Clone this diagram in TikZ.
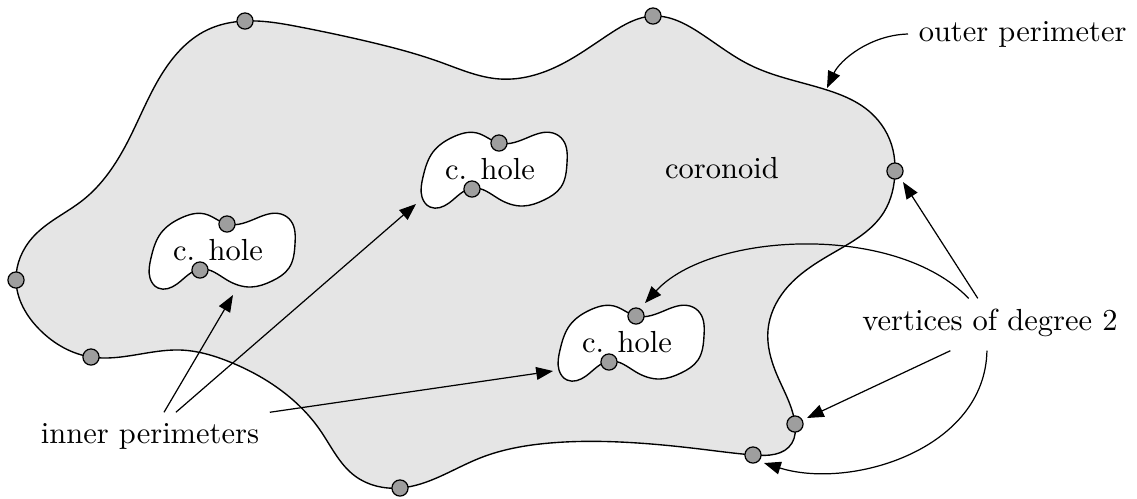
\documentclass[tikz,border=0pt]{standalone}
\usetikzlibrary{arrows.meta,hobby}
\begin{document}
\begin{tikzpicture}[x=0.328pt,y=-0.328pt,
  vtx/.style={circle,draw=black,fill=black!38,inner sep=0pt,minimum size=5.3pt,line width=0.4pt},
  arr/.style={-{Triangle[length=5.5pt,width=4.2pt]},line width=0.4pt},
  outline/.style={draw=black,line width=0.45pt}]
\useasboundingbox (0,0) rectangle (1137,498);

% coronoid outer perimeter
\path[outline,fill=black!10] plot[closed hobby] coordinates {
 (16,280) (33,237) (83,200) (127,143) (160,77) (207,30) (245,21) (300,27)
 (370,42) (440,62) (500,79) (560,65) (611,33) (653,16) (700,33) (750,65)
 (827,90) (870,112) (893,150) (895,171) (884,212) (833,253) (785,290) (768,330)
 (777,375) (795,424) (792,443) (753,455) (700,449) (620,442) (550,443) (480,458)
 (400,488) (355,476) (320,430) (275,386) (230,362) (180,350) (91,357) (40,330)};

% holes
\foreach \n/\hx/\hy in {1/227/224, 2/499/143, 3/636/316}{
  \begin{scope}[shift={(\hx,\hy)}]
    \path[outline,fill=white] plot[closed hobby] coordinates {
      (0,0) (30,-6) (54,-10) (64,-3) (68,20) (62,44) (45,57) (24,63) (0,56)
      (-26,45) (-50,60) (-69,64) (-77,54) (-76,34) (-66,9) (-46,-6) (-22,-10)};
    \node (hl\n) at (-9,26) {c. hole};
    \node[vtx] (ht\n) at (0,0) {};
    \node[vtx] (hb\n) at (-27,46) {};
  \end{scope}
}

% vertices of degree 2 on the outer perimeter
\node[vtx] (A) at (245,21) {};
\node[vtx] (B) at (653,16) {};
\node[vtx] (C) at (895,171) {};
\node[vtx] (D) at (795,424) {};
\node[vtx] (E) at (753,455) {};
\node[vtx] (F) at (400,488) {};
\node[vtx] (G) at (91,357) {};
\node[vtx] (H) at (16,280) {};

% labels
\node (cor) at (722,168) {coronoid};
\node[anchor=west] (op) at (908,34) {outer perimeter};
\node (ip) at (150,436) {inner perimeters};
\node (vd) at (990,323) {vertices of degree 2};

% arrow tip points
\coordinate (opTip) at (827,88);
\coordinate (t1) at (233,295);
\coordinate (t2) at (416,204);
\coordinate (t3) at (553,371);
\coordinate (tH3) at (645,303);
\coordinate (tC) at (903,182);
\coordinate (tD) at (807,418);
\coordinate (tE) at (764,463);

% connectors
\draw[arr] (op.west) .. controls (870,35) and (840,60) .. (opTip);
\draw[arr] ([xshift=4.6pt]ip.north) -- (t1);
\draw[arr] ([xshift=8.5pt]ip.north) -- (t2);
\draw[arr] (ip.north east) -- (t3);
\draw[arr] ([xshift=-4pt]vd.north) -- (tC);
\draw[arr] ([xshift=-7pt]vd.north) .. controls (895,222) and (710,232) .. (tH3);
\draw[arr] ([xshift=-13pt,yshift=-1pt]vd.south) -- (tD);
\draw[arr] ([xshift=-1pt,yshift=-1pt]vd.south) .. controls (985,450) and (850,490) .. (tE);
\end{tikzpicture}
\end{document}
